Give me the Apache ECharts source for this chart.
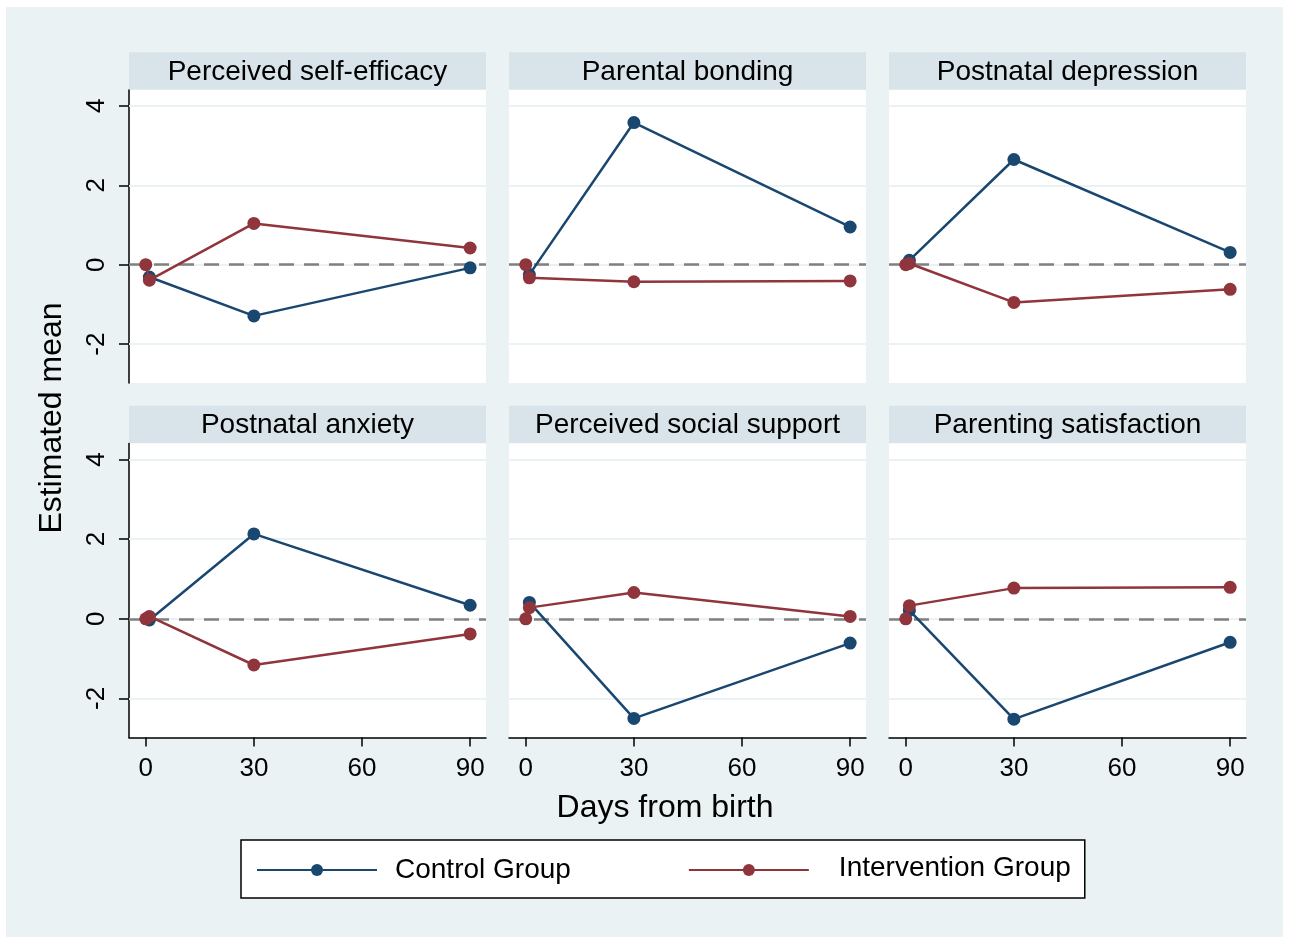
<!DOCTYPE html>
<html>
<head>
<meta charset="utf-8">
<script src="https://cdn.jsdelivr.net/npm/echarts@6/dist/echarts.min.js"></script>
<style>
html,body{margin:0;padding:0;background:#ffffff;}
#c{width:1289px;height:938px;}
</style>
</head>
<body>
<div id="c"></div>
<script>
// ---- data ----
const panelTitles = ['Perceived self-efficacy', 'Parental bonding', 'Postnatal depression',
                     'Postnatal anxiety', 'Perceived social support', 'Parenting satisfaction'];
const days = [1, 30, 90];
const baselineDay = 0;
const baselineValue = 0;
const controlSelfEfficacy = [-0.31, -1.29, -0.08];
const controlBonding = [-0.25, 3.58, 0.95];
const controlDepression = [0.11, 2.65, 0.31];
const controlAnxiety = [-0.03, 2.13, 0.34];
const controlSocial = [0.41, -2.50, -0.61];
const controlSatisfaction = [0.21, -2.52, -0.59];
const interSelfEfficacy = [-0.39, 1.04, 0.42];
const interBonding = [-0.33, -0.43, -0.41];
const interDepression = [0.03, -0.95, -0.62];
const interAnxiety = [0.06, -1.16, -0.38];
const interSocial = [0.28, 0.66, 0.06];
const interSatisfaction = [0.33, 0.77, 0.79];
const xTicks = [0, 30, 60, 90];
const yTicks = [-2, 0, 2, 4];
const seriesNames = ['Control Group', 'Intervention Group'];

const controlData = [controlSelfEfficacy, controlBonding, controlDepression, controlAnxiety, controlSocial, controlSatisfaction];
const interData = [interSelfEfficacy, interBonding, interDepression, interAnxiety, interSocial, interSatisfaction];

// ---- layout ----
const FONT = "'Liberation Sans', Arial, sans-serif";
const BLUE = '#1A476F';
const RED = '#90353B';
const colLeft = [129, 509, 889];
const colW = 357;
const rowTop = [90, 443.5];
const rowH = [293, 294];
const stripTop = [52.3, 405.7];
const stripH = 37.3;

const grids = [], xAxes = [], yAxes = [], series = [], graphics = [];

graphics.push({type:'rect', shape:{x:6, y:7, width:1277, height:930}, style:{fill:'#EAF2F3'}, z:-10, silent:true});

for (let i = 0; i < 6; i++) {
  const row = Math.floor(i / 3), col = i % 3;
  grids.push({left: colLeft[col], top: rowTop[row], width: colW, height: rowH[row],
              show: true, backgroundColor: '#ffffff', borderWidth: 0});
  graphics.push({type:'rect', shape:{x: colLeft[col], y: stripTop[row], width: colW, height: stripH},
                 style:{fill:'#D9E4EA'}, silent:true});
  graphics.push({type:'text', x: colLeft[col] + colW / 2, y: stripTop[row] + stripH / 2 + 1,
                 style:{text: panelTitles[i], font: '28px ' + FONT, fill:'#000', align:'center', verticalAlign:'middle'}, silent:true});
  xAxes.push({
    type:'value', gridIndex:i, min:-4.65, max:94.4,
    axisLine:{show: row === 1, onZero:false, lineStyle:{color:'#000', width:1.5}},
    axisTick:{show: row === 1, length:9, customValues: xTicks, lineStyle:{color:'#000', width:1.5}},
    axisLabel:{show: row === 1, customValues: xTicks, margin:18, fontSize:26, fontFamily: FONT, color:'#000'},
    splitLine:{show:false}
  });
  yAxes.push({
    type:'value', gridIndex:i, min:-2.98, max:4.4,
    axisLine:{show: col === 0, onZero:false, lineStyle:{color:'#000', width:1.5}},
    axisTick:{show: col === 0, length:10, customValues: yTicks, lineStyle:{color:'#000', width:1.5}},
    axisLabel:{show: col === 0, customValues: yTicks, rotate:90, margin:19, fontSize:26, fontFamily: FONT, color:'#000'},
    splitLine:{show:false}
  });
  // grid lines + zero reference line
  const mlData = yTicks.map(v => ({yAxis: v, lineStyle:{color:'#EAF2F3', width:2, type:'solid'}}));
  mlData.push({yAxis: 0, lineStyle:{color:'#808080', width:2.5, type:[15, 10]}});
  series.push({type:'line', xAxisIndex:i, yAxisIndex:i, data:[], silent:true, z:1,
               markLine:{silent:true, z:1, symbol:'none', label:{show:false}, animation:false, data: mlData}});
  series.push({
    name: seriesNames[0], type:'line', xAxisIndex:i, yAxisIndex:i, z:3,
    data: days.map((d, k) => [d, controlData[i][k]]),
    symbol:'circle', symbolSize:13, color: BLUE,
    lineStyle:{color: BLUE, width:2.5}, itemStyle:{color: BLUE}, animation:false
  });
  series.push({
    name: seriesNames[1], type:'line', xAxisIndex:i, yAxisIndex:i, z:4,
    data: [[baselineDay, baselineValue]].concat(days.map((d, k) => [d, interData[i][k]])),
    symbol:'circle', symbolSize:13, color: RED,
    lineStyle:{color: RED, width:2.5}, itemStyle:{color: RED}, animation:false
  });
}

graphics.push({type:'text', x:665, y:808, style:{text:'Days from birth', font:'32px ' + FONT, fill:'#000', align:'center', verticalAlign:'middle'}, silent:true});
graphics.push({type:'text', x:52, y:418, rotation: Math.PI / 2,
               style:{text:'Estimated mean', font:'32px ' + FONT, fill:'#000', align:'center', verticalAlign:'middle'}, silent:true});

const chart = echarts.init(document.getElementById('c'), null, {renderer:'canvas'});
chart.setOption({
  animation:false,
  backgroundColor:'#ffffff',
  grid: grids, xAxis: xAxes, yAxis: yAxes, series: series,
  graphic: graphics,
  legend: {
    data: seriesNames,
    left: 241, top: 840,
    padding: [14, 14, 14, 15],
    itemWidth: 120, itemHeight: 15, itemGap: 117,
    backgroundColor:'#ffffff', borderColor:'#000', borderWidth:1.5, borderRadius:0,
    formatter: name => name === seriesNames[0] ? '{a|' + name + '}' : '{b|' + name + '}',
    textStyle: {fontSize:28, fontFamily: FONT, color:'#000',
      rich:{a:{fontSize:28, fontFamily: FONT, padding:[0,0,0,13]}, b:{fontSize:28, fontFamily: FONT, padding:[0,0,4,25]}}}
  },
  tooltip: {show:false}
});
</script>
</body>
</html>
